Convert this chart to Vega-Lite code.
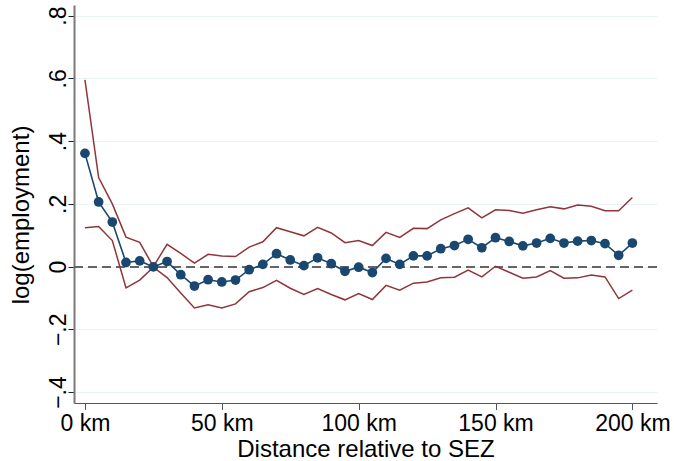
{
  "$schema": "https://vega.github.io/schema/vega-lite/v6.json",
  "width": 583,
  "height": 398,
  "autosize": {"type": "none"},
  "padding": {"left": 74, "top": 5, "right": 17, "bottom": 58},
  "background": "white",
  "config": {"view": {"stroke": null}, "font": "Liberation Sans"},
  "data": {"values": [
    {"dist": 0, "est": 0.361, "hi": 0.595, "lo": 0.124},
    {"dist": 5, "est": 0.206, "hi": 0.284, "lo": 0.128},
    {"dist": 10, "est": 0.142, "hi": 0.2, "lo": 0.083},
    {"dist": 15, "est": 0.013, "hi": 0.094, "lo": -0.068},
    {"dist": 20, "est": 0.018, "hi": 0.077, "lo": -0.043},
    {"dist": 25, "est": -0.001, "hi": 0.0, "lo": -0.002},
    {"dist": 30, "est": 0.016, "hi": 0.071, "lo": -0.035},
    {"dist": 35, "est": -0.026, "hi": 0.042, "lo": -0.084},
    {"dist": 40, "est": -0.062, "hi": 0.011, "lo": -0.132},
    {"dist": 45, "est": -0.042, "hi": 0.039, "lo": -0.122},
    {"dist": 50, "est": -0.049, "hi": 0.034, "lo": -0.132},
    {"dist": 55, "est": -0.043, "hi": 0.032, "lo": -0.119},
    {"dist": 60, "est": -0.01, "hi": 0.062, "lo": -0.08},
    {"dist": 65, "est": 0.007, "hi": 0.079, "lo": -0.067},
    {"dist": 70, "est": 0.041, "hi": 0.124, "lo": -0.044},
    {"dist": 75, "est": 0.021, "hi": 0.111, "lo": -0.069},
    {"dist": 80, "est": 0.003, "hi": 0.098, "lo": -0.089},
    {"dist": 85, "est": 0.028, "hi": 0.125, "lo": -0.07},
    {"dist": 90, "est": 0.009, "hi": 0.107, "lo": -0.089},
    {"dist": 95, "est": -0.015, "hi": 0.076, "lo": -0.106},
    {"dist": 100, "est": -0.002, "hi": 0.083, "lo": -0.086},
    {"dist": 105, "est": -0.019, "hi": 0.067, "lo": -0.105},
    {"dist": 110, "est": 0.026, "hi": 0.109, "lo": -0.06},
    {"dist": 115, "est": 0.007, "hi": 0.093, "lo": -0.075},
    {"dist": 120, "est": 0.034, "hi": 0.122, "lo": -0.053},
    {"dist": 125, "est": 0.034, "hi": 0.121, "lo": -0.049},
    {"dist": 130, "est": 0.057, "hi": 0.149, "lo": -0.036},
    {"dist": 135, "est": 0.067, "hi": 0.169, "lo": -0.034},
    {"dist": 140, "est": 0.087, "hi": 0.187, "lo": -0.011},
    {"dist": 145, "est": 0.06, "hi": 0.155, "lo": -0.033},
    {"dist": 150, "est": 0.092, "hi": 0.181, "lo": 0.001},
    {"dist": 155, "est": 0.08, "hi": 0.179, "lo": -0.018},
    {"dist": 160, "est": 0.066, "hi": 0.17, "lo": -0.037},
    {"dist": 165, "est": 0.075, "hi": 0.181, "lo": -0.033},
    {"dist": 170, "est": 0.09, "hi": 0.191, "lo": -0.013},
    {"dist": 175, "est": 0.075, "hi": 0.184, "lo": -0.037},
    {"dist": 180, "est": 0.081, "hi": 0.196, "lo": -0.036},
    {"dist": 185, "est": 0.083, "hi": 0.192, "lo": -0.027},
    {"dist": 190, "est": 0.073, "hi": 0.178, "lo": -0.033},
    {"dist": 195, "est": 0.036, "hi": 0.178, "lo": -0.102},
    {"dist": 200, "est": 0.075, "hi": 0.22, "lo": -0.075}
  ]},
  "encoding": {
    "x": {
      "field": "dist", "type": "quantitative",
      "scale": {"domain": [-4, 209], "nice": false, "zero": false},
      "axis": {
        "values": [0, 50, 100, 150, 200],
        "labelExpr": "datum.value + ' km'",
        "title": "Distance relative to SEZ",
        "grid": false,
        "domainColor": "#555555", "domainWidth": 1.2,
        "tickColor": "#555555", "tickSize": 6.5, "tickWidth": 1,
        "labelFont": "Liberation Sans", "labelFontSize": 23, "labelColor": "#000000",
        "labelBaseline": "alphabetic", "labelPadding": 21,
        "titleFont": "Liberation Sans", "titleFontSize": 24, "titleFontWeight": "normal", "titleColor": "#000000",
        "titleBaseline": "alphabetic", "titleY": 53
      }
    }
  },
  "layer": [
    {
      "mark": {"type": "rule", "color": "#666666", "strokeDash": [9, 5], "strokeWidth": 1.3},
      "encoding": {"y": {"datum": 0, "type": "quantitative"}, "x": null}
    },
    {
      "mark": {"type": "line", "color": "#90353b", "strokeWidth": 1.5},
      "encoding": {
        "y": {
          "field": "hi", "type": "quantitative",
          "scale": {"domain": [-0.435, 0.834], "nice": false, "zero": false},
          "axis": {
            "values": [-0.4, -0.2, 0, 0.2, 0.4, 0.6, 0.8],
            "labelExpr": "datum.value == 0 ? '0' : (datum.value < 0 ? '\u2212' + replace(format(-datum.value, '.1f'), '0.', '.') : replace(format(datum.value, '.1f'), '0.', '.'))",
            "title": "log(employment)",
            "grid": true, "gridColor": "#eaf2f3", "gridWidth": 1.2,
            "domainColor": "#7a7a7a", "domainWidth": 2,
            "tickColor": "#222222", "tickSize": 6, "tickWidth": 1,
            "labelFont": "Liberation Sans", "labelFontSize": 23, "labelColor": "#000000",
            "labelAngle": 270, "labelAlign": "center", "labelBaseline": "alphabetic", "labelPadding": 3,
            "titleFont": "Liberation Sans", "titleFontSize": 24, "titleFontWeight": "normal", "titleColor": "#000000",
            "titleAngle": 270, "titleAlign": "center", "titleBaseline": "alphabetic",
            "titleX": -45.7, "titleY": 209.5
          }
        }
      }
    },
    {
      "mark": {"type": "line", "color": "#90353b", "strokeWidth": 1.5},
      "encoding": {"y": {"field": "lo", "type": "quantitative"}}
    },
    {
      "mark": {"type": "line", "color": "#1a476f", "strokeWidth": 1.6},
      "encoding": {"y": {"field": "est", "type": "quantitative"}}
    },
    {
      "mark": {"type": "point", "filled": true, "color": "#1a476f", "size": 95, "opacity": 1},
      "encoding": {"y": {"field": "est", "type": "quantitative"}}
    }
  ]
}
